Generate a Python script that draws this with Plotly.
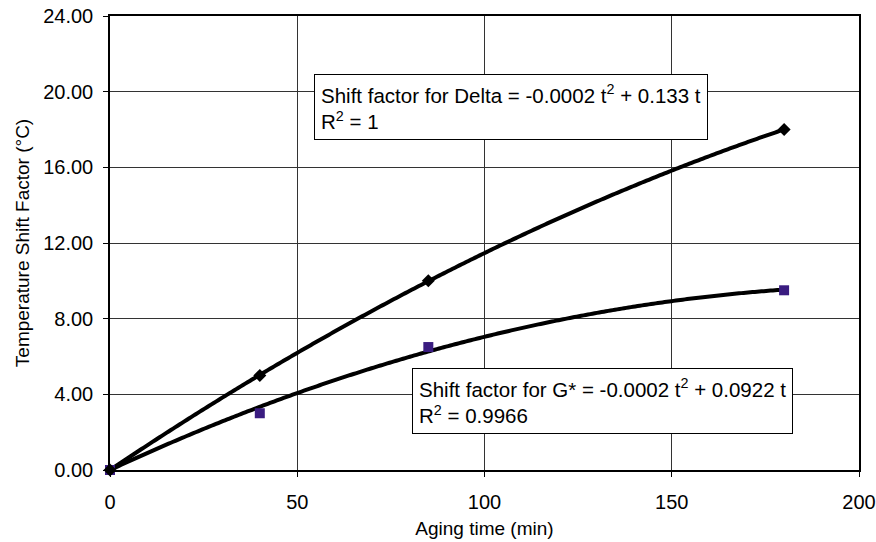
import numpy as np
import plotly.graph_objects as go

aging_time = [0, 40, 85, 180]
delta_shift = [0.0, 5.0, 10.0, 18.0]
gstar_shift = [0.0, 3.0, 6.5, 9.5]

x_ticks = [0, 50, 100, 150, 200]
y_ticks = [0, 4, 8, 12, 16, 20, 24]

label_delta = "Shift factor for Delta = -0.0002 t<sup>2</sup> + 0.133 t<br>R<sup>2</sup> = 1"
label_gstar = "Shift factor for G* = -0.0002 t<sup>2</sup> + 0.0922 t<br>R<sup>2</sup> = 0.9966"


def fit_through_origin(x, y):
    x = np.asarray(x, float)
    y = np.asarray(y, float)
    A = np.column_stack([x**2, x])
    coef, *_ = np.linalg.lstsq(A, y, rcond=None)
    return coef


t = np.linspace(0, max(aging_time), 300)
ca = fit_through_origin(aging_time, delta_shift)
cb = fit_through_origin(aging_time, gstar_shift)

fig = go.Figure()
fig.add_trace(go.Scatter(x=t, y=ca[0] * t**2 + ca[1] * t, mode="lines", cliponaxis=False,
                         line=dict(color="black", width=4, simplify=False), showlegend=False, hoverinfo="skip"))
fig.add_trace(go.Scatter(x=t, y=cb[0] * t**2 + cb[1] * t, mode="lines", cliponaxis=False,
                         line=dict(color="black", width=4, simplify=False), showlegend=False, hoverinfo="skip"))
fig.add_trace(go.Scatter(x=aging_time, y=gstar_shift, mode="markers", cliponaxis=False,
                         marker=dict(symbol="square", size=10, color="#3a1c80"), showlegend=False))
fig.add_trace(go.Scatter(x=aging_time, y=delta_shift, mode="markers", cliponaxis=False,
                         marker=dict(symbol="diamond", size=10, color="black"), showlegend=False))

font = dict(family="Liberation Sans, Arial, sans-serif", size=20, color="black")
afont = dict(family="Liberation Sans, Arial, sans-serif", size=20.5, color="black")
tfont = dict(family="Liberation Sans, Arial, sans-serif", size=19, color="black")

fig.add_annotation(x=0.273, y=0.872, xref="paper", yref="paper", xanchor="left", yanchor="top",
                   text=label_delta, showarrow=False, align="left", font=afont,
                   bgcolor="white", bordercolor="black", borderwidth=1, borderpad=6)
fig.add_annotation(x=0.403, y=0.225, xref="paper", yref="paper", xanchor="left", yanchor="top",
                   text=label_gstar, showarrow=False, align="left", font=afont,
                   bgcolor="white", bordercolor="black", borderwidth=1, borderpad=6)

fig.update_layout(
    width=876, height=542,
    margin=dict(l=110, r=17, t=16, b=72),
    paper_bgcolor="white", plot_bgcolor="white",
    font=font,
)
fig.update_xaxes(range=[0, 200], tickvals=x_ticks, ticks="outside", ticklen=5, tickcolor="black",
                 ticklabelstandoff=8, automargin=False,
                 showgrid=True, gridcolor="#333333", gridwidth=1,
                 showline=True, linecolor="black", linewidth=1.5, mirror=True, zeroline=False,
                 title=dict(text="Aging time (min)", font=tfont, standoff=10))
fig.update_yaxes(range=[0, 24], tickvals=y_ticks, tickformat=".2f", ticks="outside", ticklen=5,
                 tickcolor="black", ticklabelstandoff=6, automargin=False,
                 showgrid=True, gridcolor="#333333", gridwidth=1,
                 showline=True, linecolor="black", linewidth=1.5, mirror=True, zeroline=False,
                 title=dict(text="Temperature Shift Factor (°C)", font=tfont, standoff=9))

fig.write_html("out.html", config={"displayModeBar": False},
               post_script="document.body.style.margin='0';")
